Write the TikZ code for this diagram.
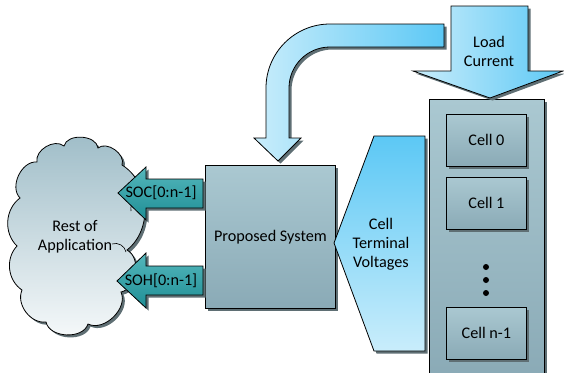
\documentclass[tikz,border=0pt]{standalone}
\usepackage{fontspec}
\setmainfont{Carlito}
\usetikzlibrary{shadows}
\definecolor{boxtop}{HTML}{AAC8D1}
\definecolor{boxbot}{HTML}{8AAAB6}
\definecolor{shadowc}{HTML}{5F6F74}
\definecolor{bluedark}{HTML}{5CC8F5}
\definecolor{bluelight}{HTML}{C9EDFB}
\definecolor{tealtop}{HTML}{55B7BC}
\definecolor{tealbot}{HTML}{1E8E95}
\definecolor{cloudtop}{HTML}{9FBDC8}
\definecolor{cloudbot}{HTML}{F6F9FA}
\tikzset{
  sh/.style={drop shadow={shadow xshift=2.5pt, shadow yshift=-2.5pt, fill=shadowc, opacity=1}},
  outl/.style={draw=black, line width=0.8pt},
  gbox/.style={outl, top color=boxtop, bottom color=boxbot, sh, inner sep=0pt, anchor=north west},
  cellbox/.style={gbox, minimum width=80pt, minimum height=52pt},
  txt/.style={align=center, inner sep=0pt, font=\fontsize{16.2}{19}\selectfont},
  bluev/.style={outl, top color=bluedark, bottom color=bluelight, sh},
  blueh/.style={outl, left color=bluelight, right color=bluedark, sh},
  tealarrow/.style={outl, top color=tealtop, bottom color=tealbot, sh},
  puff/.style={bend left=#1},
}
\begin{document}
\begin{tikzpicture}[x=1pt,y=-1pt]
\useasboundingbox (0,0) rectangle (564,372);
\clip (0,0) rectangle (564,372);
% battery pack
\node[gbox, minimum width=115pt, minimum height=280pt] (pack) at (429,99) {};
\node[cellbox, txt] (c0) at (446,114) {Cell 0};
\node[cellbox, txt] (c1) at (446,177) {Cell 1};
\node[cellbox, txt] (cn) at (446,307) {Cell n-1};
\foreach \yy/\nm in {267/d1,280/d2,293/d3}
  \fill (486,\yy) circle[radius=3pt] coordinate (\nm);
% proposed system
\node[gbox, minimum width=130pt, minimum height=143pt, txt] (ps) at (205,165) {Proposed System};
% cell terminal voltages
\path[bluev] (374,136) -- (425,136) -- (425,351) -- (374,351) -- (334,243) -- cycle;
\node[txt] (ctv) at (381,244) {Cell\\Terminal\\Voltages};
% load current arrow
\path[blueh] (451,6) -- (528,6) -- (528,71) -- (563,71) -- (490,98) -- (413,71) -- (451,71) -- cycle;
\node[txt] (lc) at (489,51) {Load\\Current};
% curved arrow
\path[blueh] (444,24) -- (330,24) .. controls (294.7,24) and (266,52.7) .. (266,88)
  -- (266,138) -- (254,138) -- (278,161) -- (301,138) -- (289,138) -- (289,88)
  .. controls (289,65.4) and (307.4,47) .. (330,47) -- (444,47) -- cycle;
% cloud
\path[outl, top color=cloudtop, bottom color=cloudbot, sh]
  (20,198) to[puff=70] (37,162) to[puff=70] (64,146) to[puff=80] (98,148)
  to[puff=75] (122,165) to[puff=55] (127,250) to[puff=70] (121,292)
  to[puff=70] (88,324) to[puff=75] (46,322) to[puff=60] (22,290)
  to[puff=50] (17,246) to[puff=50] (20,198) -- cycle;
\draw[line width=0.6pt] (112,244) to[bend left=50] (126,252);
\draw[line width=0.6pt] (131,211) to[bend left=40] (137,200);
\node[txt] (app) at (75,237) {Rest of\\Application};
% SOC / SOH arrows
\path[tealarrow] (203,179) -- (146,179) -- (146,167) -- (118,193) -- (146,220) -- (146,208) -- (203,208) -- cycle;
\node[txt] (soc) at (161,193) {SOC[0:n-1]};
\path[tealarrow] (203,266) -- (146,266) -- (146,253) -- (117,281) -- (146,308) -- (146,295) -- (203,295) -- cycle;
\node[txt] (soh) at (161,281) {SOH[0:n-1]};
\end{tikzpicture}
\end{document}
